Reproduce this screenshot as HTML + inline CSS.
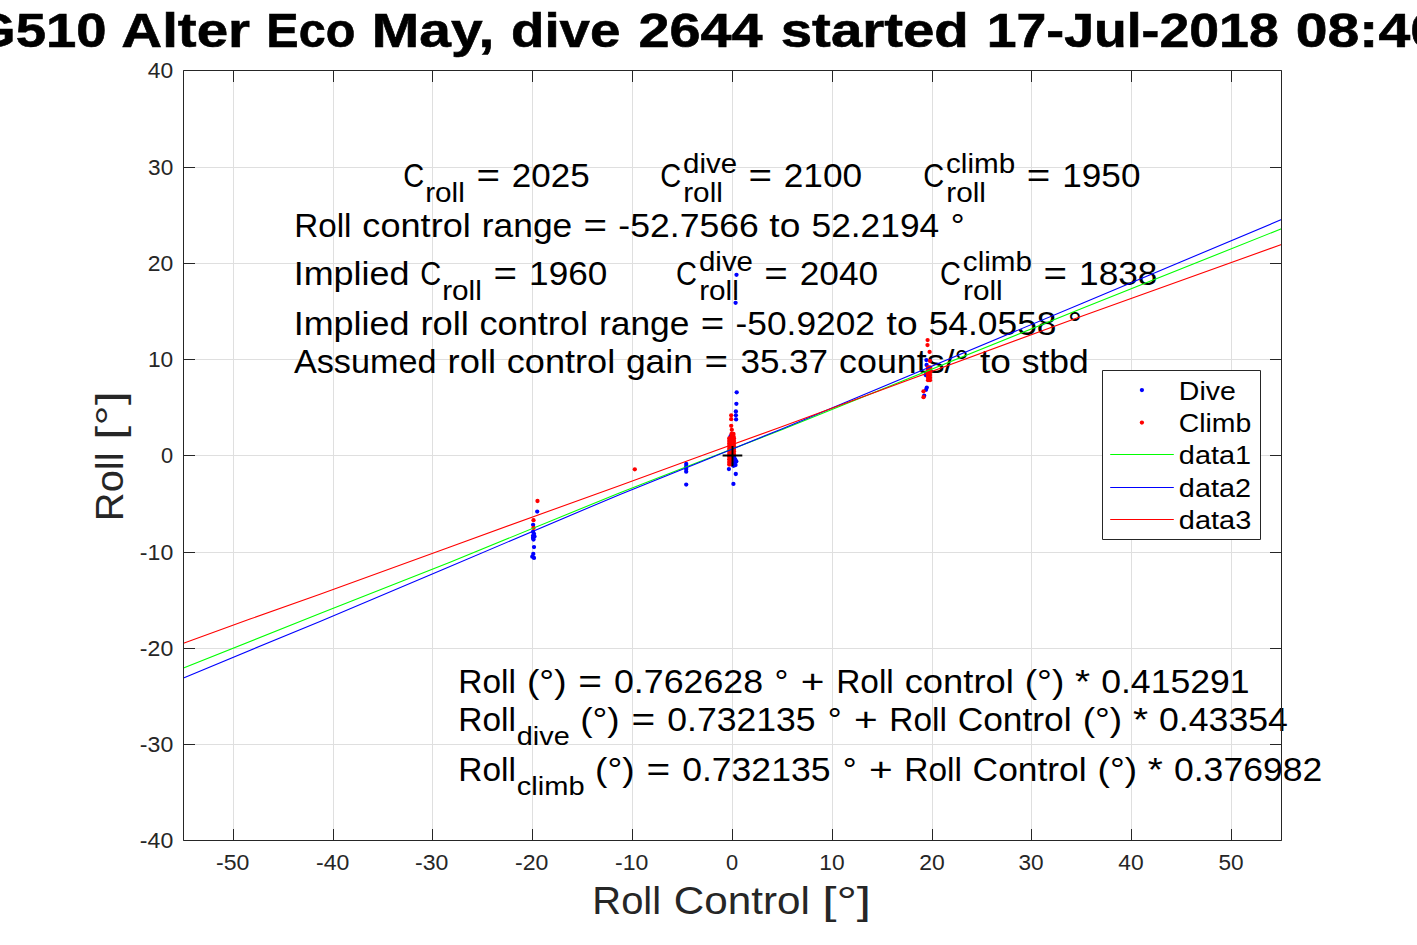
<!DOCTYPE html><html><head><meta charset="utf-8"><style>html,body{margin:0;padding:0;background:#fff;overflow:hidden}svg{display:block}text{font-family:"Liberation Sans",sans-serif;white-space:pre}</style></head><body>
<svg width="1417" height="945" viewBox="0 0 1417 945">
<rect width="1417" height="945" fill="#fff"/>
<path d="M233.5 70.5V840.5M333.5 70.5V840.5M432.5 70.5V840.5M532.5 70.5V840.5M632.5 70.5V840.5M732.5 70.5V840.5M832.5 70.5V840.5M932.5 70.5V840.5M1031.5 70.5V840.5M1131.5 70.5V840.5M1231.5 70.5V840.5M183.5 167.5H1281.5M183.5 263.5H1281.5M183.5 359.5H1281.5M183.5 455.5H1281.5M183.5 552.5H1281.5M183.5 648.5H1281.5M183.5 744.5H1281.5" stroke="#dfdfdf" stroke-width="1" fill="none"/>
<text x="403.22" y="187.00" font-size="32.87" fill="#000" textLength="20.98" lengthAdjust="spacingAndGlyphs">C</text>
<text x="425.15" y="202.00" font-size="26.88" fill="#000" textLength="39.65" lengthAdjust="spacingAndGlyphs">roll</text>
<text x="476.51" y="187.00" font-size="32.87" fill="#000" textLength="23.55" lengthAdjust="spacingAndGlyphs">=</text>
<text x="511.87" y="187.00" font-size="32.87" fill="#000" textLength="77.86" lengthAdjust="spacingAndGlyphs">2025</text>
<text x="660.19" y="187.00" font-size="32.87" fill="#000" textLength="20.98" lengthAdjust="spacingAndGlyphs">C</text>
<text x="683.04" y="172.50" font-size="26.88" fill="#000" textLength="54.03" lengthAdjust="spacingAndGlyphs">dive</text>
<text x="683.22" y="201.80" font-size="26.88" fill="#000" textLength="39.65" lengthAdjust="spacingAndGlyphs">roll</text>
<text x="748.43" y="187.00" font-size="32.87" fill="#000" textLength="23.55" lengthAdjust="spacingAndGlyphs">=</text>
<text x="783.77" y="187.00" font-size="32.87" fill="#000" textLength="78.44" lengthAdjust="spacingAndGlyphs">2100</text>
<text x="923.22" y="187.00" font-size="32.87" fill="#000" textLength="20.98" lengthAdjust="spacingAndGlyphs">C</text>
<text x="946.05" y="172.50" font-size="26.88" fill="#000" textLength="69.18" lengthAdjust="spacingAndGlyphs">climb</text>
<text x="946.25" y="201.80" font-size="26.88" fill="#000" textLength="39.65" lengthAdjust="spacingAndGlyphs">roll</text>
<text x="1026.68" y="187.00" font-size="32.87" fill="#000" textLength="23.55" lengthAdjust="spacingAndGlyphs">=</text>
<text x="1062.27" y="187.00" font-size="32.87" fill="#000" textLength="78.19" lengthAdjust="spacingAndGlyphs">1950</text>
<text x="294.27" y="237.00" font-size="32.87" fill="#000" textLength="57.23" lengthAdjust="spacingAndGlyphs">Roll</text>
<text x="362.36" y="237.00" font-size="32.87" fill="#000" textLength="108.47" lengthAdjust="spacingAndGlyphs">control</text>
<text x="481.80" y="237.00" font-size="32.87" fill="#000" textLength="90.42" lengthAdjust="spacingAndGlyphs">range</text>
<text x="583.61" y="237.00" font-size="32.87" fill="#000" textLength="23.55" lengthAdjust="spacingAndGlyphs">=</text>
<text x="618.38" y="237.00" font-size="32.87" fill="#000" textLength="140.37" lengthAdjust="spacingAndGlyphs">-52.7566</text>
<text x="769.39" y="237.00" font-size="32.87" fill="#000" textLength="30.99" lengthAdjust="spacingAndGlyphs">to</text>
<text x="811.49" y="237.00" font-size="32.87" fill="#000" textLength="127.71" lengthAdjust="spacingAndGlyphs">52.2194</text>
<text x="950.79" y="237.00" font-size="32.87" fill="#000" textLength="13.83" lengthAdjust="spacingAndGlyphs">°</text>
<text x="293.68" y="285.00" font-size="32.87" fill="#000" textLength="115.82" lengthAdjust="spacingAndGlyphs">Implied</text>
<text x="420.27" y="285.00" font-size="32.87" fill="#000" textLength="20.98" lengthAdjust="spacingAndGlyphs">C</text>
<text x="442.19" y="300.00" font-size="26.88" fill="#000" textLength="39.65" lengthAdjust="spacingAndGlyphs">roll</text>
<text x="493.55" y="285.00" font-size="32.87" fill="#000" textLength="23.55" lengthAdjust="spacingAndGlyphs">=</text>
<text x="529.14" y="285.00" font-size="32.87" fill="#000" textLength="78.19" lengthAdjust="spacingAndGlyphs">1960</text>
<text x="676.12" y="285.00" font-size="32.87" fill="#000" textLength="20.98" lengthAdjust="spacingAndGlyphs">C</text>
<text x="698.97" y="270.50" font-size="26.88" fill="#000" textLength="54.03" lengthAdjust="spacingAndGlyphs">dive</text>
<text x="699.15" y="299.80" font-size="26.88" fill="#000" textLength="39.65" lengthAdjust="spacingAndGlyphs">roll</text>
<text x="764.36" y="285.00" font-size="32.87" fill="#000" textLength="23.55" lengthAdjust="spacingAndGlyphs">=</text>
<text x="799.70" y="285.00" font-size="32.87" fill="#000" textLength="78.44" lengthAdjust="spacingAndGlyphs">2040</text>
<text x="940.02" y="285.00" font-size="32.87" fill="#000" textLength="20.98" lengthAdjust="spacingAndGlyphs">C</text>
<text x="962.85" y="270.50" font-size="26.88" fill="#000" textLength="69.18" lengthAdjust="spacingAndGlyphs">climb</text>
<text x="963.05" y="299.80" font-size="26.88" fill="#000" textLength="39.65" lengthAdjust="spacingAndGlyphs">roll</text>
<text x="1043.48" y="285.00" font-size="32.87" fill="#000" textLength="23.55" lengthAdjust="spacingAndGlyphs">=</text>
<text x="1079.07" y="285.00" font-size="32.87" fill="#000" textLength="78.29" lengthAdjust="spacingAndGlyphs">1838</text>
<text x="293.68" y="335.00" font-size="32.87" fill="#000" textLength="115.82" lengthAdjust="spacingAndGlyphs">Implied</text>
<text x="420.41" y="335.00" font-size="32.87" fill="#000" textLength="48.48" lengthAdjust="spacingAndGlyphs">roll</text>
<text x="479.54" y="335.00" font-size="32.87" fill="#000" textLength="108.47" lengthAdjust="spacingAndGlyphs">control</text>
<text x="598.97" y="335.00" font-size="32.87" fill="#000" textLength="90.42" lengthAdjust="spacingAndGlyphs">range</text>
<text x="700.78" y="335.00" font-size="32.87" fill="#000" textLength="23.55" lengthAdjust="spacingAndGlyphs">=</text>
<text x="735.57" y="335.00" font-size="32.87" fill="#000" textLength="139.41" lengthAdjust="spacingAndGlyphs">-50.9202</text>
<text x="886.57" y="335.00" font-size="32.87" fill="#000" textLength="30.99" lengthAdjust="spacingAndGlyphs">to</text>
<text x="928.66" y="335.00" font-size="32.87" fill="#000" textLength="127.83" lengthAdjust="spacingAndGlyphs">54.0558</text>
<text x="1067.96" y="335.00" font-size="32.87" fill="#000" textLength="13.83" lengthAdjust="spacingAndGlyphs">°</text>
<text x="293.93" y="373.00" font-size="32.87" fill="#000" textLength="142.66" lengthAdjust="spacingAndGlyphs">Assumed</text>
<text x="447.61" y="373.00" font-size="32.87" fill="#000" textLength="48.48" lengthAdjust="spacingAndGlyphs">roll</text>
<text x="506.74" y="373.00" font-size="32.87" fill="#000" textLength="108.47" lengthAdjust="spacingAndGlyphs">control</text>
<text x="625.92" y="373.00" font-size="32.87" fill="#000" textLength="66.98" lengthAdjust="spacingAndGlyphs">gain</text>
<text x="704.56" y="373.00" font-size="32.87" fill="#000" textLength="23.55" lengthAdjust="spacingAndGlyphs">=</text>
<text x="740.43" y="373.00" font-size="32.87" fill="#000" textLength="87.64" lengthAdjust="spacingAndGlyphs">35.37</text>
<text x="839.14" y="373.00" font-size="32.87" fill="#000" textLength="129.77" lengthAdjust="spacingAndGlyphs">counts/°</text>
<text x="979.97" y="373.00" font-size="32.87" fill="#000" textLength="30.99" lengthAdjust="spacingAndGlyphs">to</text>
<text x="1021.78" y="373.00" font-size="32.87" fill="#000" textLength="67.05" lengthAdjust="spacingAndGlyphs">stbd</text>
<text x="458.26" y="693.00" font-size="33.08" fill="#000" textLength="57.60" lengthAdjust="spacingAndGlyphs">Roll</text>
<text x="526.99" y="693.00" font-size="33.08" fill="#000" textLength="39.51" lengthAdjust="spacingAndGlyphs">(°)</text>
<text x="578.28" y="693.00" font-size="33.08" fill="#000" textLength="23.70" lengthAdjust="spacingAndGlyphs">=</text>
<text x="614.01" y="693.00" font-size="33.08" fill="#000" textLength="149.02" lengthAdjust="spacingAndGlyphs">0.762628</text>
<text x="774.57" y="693.00" font-size="33.08" fill="#000" textLength="13.91" lengthAdjust="spacingAndGlyphs">°</text>
<text x="800.77" y="693.00" font-size="33.08" fill="#000" textLength="23.70" lengthAdjust="spacingAndGlyphs">+</text>
<text x="836.16" y="693.00" font-size="33.08" fill="#000" textLength="57.60" lengthAdjust="spacingAndGlyphs">Roll</text>
<text x="904.68" y="693.00" font-size="33.08" fill="#000" textLength="109.17" lengthAdjust="spacingAndGlyphs">control</text>
<text x="1024.79" y="693.00" font-size="33.08" fill="#000" textLength="39.51" lengthAdjust="spacingAndGlyphs">(°)</text>
<text x="1075.04" y="693.00" font-size="33.08" fill="#000" textLength="15.11" lengthAdjust="spacingAndGlyphs">*</text>
<text x="1101.18" y="693.00" font-size="33.08" fill="#000" textLength="148.45" lengthAdjust="spacingAndGlyphs">0.415291</text>
<text x="458.26" y="731.00" font-size="33.08" fill="#000" textLength="57.60" lengthAdjust="spacingAndGlyphs">Roll</text>
<text x="516.74" y="744.70" font-size="26.36" fill="#000" textLength="52.98" lengthAdjust="spacingAndGlyphs">dive</text>
<text x="580.20" y="731.00" font-size="33.08" fill="#000" textLength="39.51" lengthAdjust="spacingAndGlyphs">(°)</text>
<text x="631.48" y="731.00" font-size="33.08" fill="#000" textLength="23.70" lengthAdjust="spacingAndGlyphs">=</text>
<text x="667.22" y="731.00" font-size="33.08" fill="#000" textLength="148.36" lengthAdjust="spacingAndGlyphs">0.732135</text>
<text x="827.78" y="731.00" font-size="33.08" fill="#000" textLength="13.91" lengthAdjust="spacingAndGlyphs">°</text>
<text x="853.97" y="731.00" font-size="33.08" fill="#000" textLength="23.70" lengthAdjust="spacingAndGlyphs">+</text>
<text x="889.37" y="731.00" font-size="33.08" fill="#000" textLength="57.60" lengthAdjust="spacingAndGlyphs">Roll</text>
<text x="957.67" y="731.00" font-size="33.08" fill="#000" textLength="114.00" lengthAdjust="spacingAndGlyphs">Control</text>
<text x="1082.67" y="731.00" font-size="33.08" fill="#000" textLength="39.51" lengthAdjust="spacingAndGlyphs">(°)</text>
<text x="1132.92" y="731.00" font-size="33.08" fill="#000" textLength="15.11" lengthAdjust="spacingAndGlyphs">*</text>
<text x="1159.05" y="731.00" font-size="33.08" fill="#000" textLength="128.85" lengthAdjust="spacingAndGlyphs">0.43354</text>
<text x="458.26" y="781.00" font-size="33.08" fill="#000" textLength="57.60" lengthAdjust="spacingAndGlyphs">Roll</text>
<text x="516.72" y="794.70" font-size="26.36" fill="#000" textLength="67.83" lengthAdjust="spacingAndGlyphs">climb</text>
<text x="595.12" y="781.00" font-size="33.08" fill="#000" textLength="39.51" lengthAdjust="spacingAndGlyphs">(°)</text>
<text x="646.41" y="781.00" font-size="33.08" fill="#000" textLength="23.70" lengthAdjust="spacingAndGlyphs">=</text>
<text x="682.15" y="781.00" font-size="33.08" fill="#000" textLength="148.36" lengthAdjust="spacingAndGlyphs">0.732135</text>
<text x="842.70" y="781.00" font-size="33.08" fill="#000" textLength="13.91" lengthAdjust="spacingAndGlyphs">°</text>
<text x="868.90" y="781.00" font-size="33.08" fill="#000" textLength="23.70" lengthAdjust="spacingAndGlyphs">+</text>
<text x="904.30" y="781.00" font-size="33.08" fill="#000" textLength="57.60" lengthAdjust="spacingAndGlyphs">Roll</text>
<text x="972.60" y="781.00" font-size="33.08" fill="#000" textLength="114.00" lengthAdjust="spacingAndGlyphs">Control</text>
<text x="1097.60" y="781.00" font-size="33.08" fill="#000" textLength="39.51" lengthAdjust="spacingAndGlyphs">(°)</text>
<text x="1147.85" y="781.00" font-size="33.08" fill="#000" textLength="15.11" lengthAdjust="spacingAndGlyphs">*</text>
<text x="1173.98" y="781.00" font-size="33.08" fill="#000" textLength="148.25" lengthAdjust="spacingAndGlyphs">0.376982</text>
<g fill="#0000ff"><circle cx="537.2" cy="511.6" r="2.15"/><circle cx="533.1" cy="524.8" r="2.15"/><circle cx="533.0" cy="531.8" r="2.15"/><circle cx="534.0" cy="533.8" r="2.15"/><circle cx="533.0" cy="535.8" r="2.15"/><circle cx="534.5" cy="536.5" r="2.15"/><circle cx="533.0" cy="538.0" r="2.15"/><circle cx="533.5" cy="539.5" r="2.15"/><circle cx="534.0" cy="547.1" r="2.15"/><circle cx="533.3" cy="553.9" r="2.15"/><circle cx="532.3" cy="556.7" r="2.15"/><circle cx="534.0" cy="557.9" r="2.15"/><circle cx="686.2" cy="464.0" r="2.15"/><circle cx="686.2" cy="466.5" r="2.15"/><circle cx="686.2" cy="469.0" r="2.15"/><circle cx="686.2" cy="471.7" r="2.15"/><circle cx="686.2" cy="484.6" r="2.15"/><circle cx="736.5" cy="274.8" r="2.15"/><circle cx="735.6" cy="302.8" r="2.15"/><circle cx="736.7" cy="392.3" r="2.15"/><circle cx="736.4" cy="403.8" r="2.15"/><circle cx="735.9" cy="411.5" r="2.15"/><circle cx="735.9" cy="415.3" r="2.15"/><circle cx="736.1" cy="419.4" r="2.15"/><circle cx="730.6" cy="436.2" r="2.15"/><circle cx="926.4" cy="360.1" r="2.15"/><circle cx="926.6" cy="365.0" r="2.15"/><circle cx="925.7" cy="375.0" r="2.15"/><circle cx="926.8" cy="387.6" r="2.15"/><circle cx="926.0" cy="389.8" r="2.15"/><circle cx="924.2" cy="395.7" r="2.15"/></g>
<g fill="#ff0000"><circle cx="537.5" cy="501.0" r="2.15"/><circle cx="533.5" cy="520.2" r="2.15"/><circle cx="533.5" cy="527.9" r="2.15"/><circle cx="634.8" cy="469.3" r="2.15"/><circle cx="731.2" cy="415.3" r="2.15"/><circle cx="731.2" cy="419.2" r="2.15"/><circle cx="731.2" cy="425.8" r="2.15"/><circle cx="731.8" cy="429.8" r="2.15"/><circle cx="927.6" cy="340.1" r="2.15"/><circle cx="927.5" cy="345.1" r="2.15"/><circle cx="929.6" cy="351.9" r="2.15"/><circle cx="930.0" cy="360.9" r="2.15"/><circle cx="923.5" cy="391.3" r="2.15"/><circle cx="923.5" cy="397.2" r="2.15"/><circle cx="731.5" cy="434.0" r="2.15"/><circle cx="733.5" cy="434.0" r="2.15"/><circle cx="731.5" cy="436.5" r="2.15"/><circle cx="733.5" cy="436.5" r="2.15"/><circle cx="729.2" cy="438.5" r="2.15"/><circle cx="731.6" cy="438.5" r="2.15"/><circle cx="734.0" cy="438.5" r="2.15"/><circle cx="729.2" cy="441.1" r="2.15"/><circle cx="731.6" cy="441.1" r="2.15"/><circle cx="734.0" cy="441.1" r="2.15"/><circle cx="729.2" cy="443.7" r="2.15"/><circle cx="731.6" cy="443.7" r="2.15"/><circle cx="734.0" cy="443.7" r="2.15"/><circle cx="729.2" cy="446.3" r="2.15"/><circle cx="731.6" cy="446.3" r="2.15"/><circle cx="734.0" cy="446.3" r="2.15"/><circle cx="729.2" cy="448.9" r="2.15"/><circle cx="731.6" cy="448.9" r="2.15"/><circle cx="734.0" cy="448.9" r="2.15"/><circle cx="729.2" cy="451.5" r="2.15"/><circle cx="731.6" cy="451.5" r="2.15"/><circle cx="734.0" cy="451.5" r="2.15"/><circle cx="729.2" cy="454.1" r="2.15"/><circle cx="731.6" cy="454.1" r="2.15"/><circle cx="734.0" cy="454.1" r="2.15"/><circle cx="729.2" cy="456.7" r="2.15"/><circle cx="731.6" cy="456.7" r="2.15"/><circle cx="734.0" cy="456.7" r="2.15"/><circle cx="729.2" cy="459.3" r="2.15"/><circle cx="731.6" cy="459.3" r="2.15"/><circle cx="734.0" cy="459.3" r="2.15"/><circle cx="729.2" cy="461.9" r="2.15"/><circle cx="731.6" cy="461.9" r="2.15"/><circle cx="734.0" cy="461.9" r="2.15"/><circle cx="729.2" cy="464.5" r="2.15"/><circle cx="731.6" cy="464.5" r="2.15"/><circle cx="734.0" cy="464.5" r="2.15"/><circle cx="928.0" cy="367.5" r="2.15"/><circle cx="930.0" cy="367.5" r="2.15"/><circle cx="928.0" cy="370.1" r="2.15"/><circle cx="930.0" cy="370.1" r="2.15"/><circle cx="928.0" cy="372.6" r="2.15"/><circle cx="930.0" cy="372.6" r="2.15"/><circle cx="928.0" cy="375.1" r="2.15"/><circle cx="930.0" cy="375.1" r="2.15"/><circle cx="928.0" cy="377.7" r="2.15"/><circle cx="930.0" cy="377.7" r="2.15"/><circle cx="928.0" cy="380.2" r="2.15"/><circle cx="930.0" cy="380.2" r="2.15"/></g>
<g fill="#0000ff"><circle cx="734.0" cy="457.5" r="2.15"/><circle cx="735.2" cy="459.5" r="2.15"/><circle cx="736.3" cy="461.4" r="2.15"/><circle cx="733.8" cy="463.2" r="2.15"/><circle cx="735.5" cy="465.0" r="2.15"/><circle cx="733.5" cy="465.8" r="2.15"/><circle cx="728.9" cy="469.1" r="2.15"/><circle cx="735.8" cy="474.0" r="2.15"/><circle cx="733.4" cy="483.9" r="2.15"/></g>
<polyline points="183.5,668 320,613.6 450,562.2 620,492.7 700,461.4 783,429.2 1083,308.1 1281.5,228.7" fill="none" stroke="#00ff00" stroke-width="1.1" stroke-linejoin="round"/>
<polyline points="183.5,677.9 320,621.4 450,566.4 620,494.4 700,462.2 783,428.4 1083,303.0 1281.5,219.6" fill="none" stroke="#0000ff" stroke-width="1.1" stroke-linejoin="round"/>
<polyline points="183.5,643.2 250,619.1 320,594.3 450,546.9 620,485.4 700,456.3 783,426.3 1083,315.7 1281.5,244.5" fill="none" stroke="#ff0000" stroke-width="1.1" stroke-linejoin="round"/>
<path d="M722.6 455.5H742.3M732.5 445.9V466.2" stroke="#000" stroke-width="1.9" fill="none"/>
<path d="M233.5 840.5V829.0M233.5 70.5V82.0M333.5 840.5V829.0M333.5 70.5V82.0M432.5 840.5V829.0M432.5 70.5V82.0M532.5 840.5V829.0M532.5 70.5V82.0M632.5 840.5V829.0M632.5 70.5V82.0M732.5 840.5V829.0M732.5 70.5V82.0M832.5 840.5V829.0M832.5 70.5V82.0M932.5 840.5V829.0M932.5 70.5V82.0M1031.5 840.5V829.0M1031.5 70.5V82.0M1131.5 840.5V829.0M1131.5 70.5V82.0M1231.5 840.5V829.0M1231.5 70.5V82.0M183.5 70.5H195.0M1281.5 70.5H1270.0M183.5 167.5H195.0M1281.5 167.5H1270.0M183.5 263.5H195.0M1281.5 263.5H1270.0M183.5 359.5H195.0M1281.5 359.5H1270.0M183.5 455.5H195.0M1281.5 455.5H1270.0M183.5 552.5H195.0M1281.5 552.5H1270.0M183.5 648.5H195.0M1281.5 648.5H1270.0M183.5 744.5H195.0M1281.5 744.5H1270.0M183.5 840.5H195.0M1281.5 840.5H1270.0M183.5 70.5H1281.5V840.5H183.5Z" stroke="#262626" stroke-width="1" fill="none"/>
<text x="216.08" y="869.80" font-size="21.73" fill="#262626" textLength="33.35" lengthAdjust="spacingAndGlyphs">-50</text>
<text x="316.08" y="869.80" font-size="21.73" fill="#262626" textLength="33.35" lengthAdjust="spacingAndGlyphs">-40</text>
<text x="415.08" y="869.80" font-size="21.73" fill="#262626" textLength="33.35" lengthAdjust="spacingAndGlyphs">-30</text>
<text x="515.08" y="869.80" font-size="21.73" fill="#262626" textLength="33.35" lengthAdjust="spacingAndGlyphs">-20</text>
<text x="615.08" y="869.80" font-size="21.73" fill="#262626" textLength="33.35" lengthAdjust="spacingAndGlyphs">-10</text>
<text x="725.93" y="869.80" font-size="21.73" fill="#262626" textLength="12.14" lengthAdjust="spacingAndGlyphs">0</text>
<text x="819.37" y="869.80" font-size="21.73" fill="#262626" textLength="25.31" lengthAdjust="spacingAndGlyphs">10</text>
<text x="919.19" y="869.80" font-size="21.73" fill="#262626" textLength="25.50" lengthAdjust="spacingAndGlyphs">20</text>
<text x="1018.55" y="869.80" font-size="21.73" fill="#262626" textLength="25.13" lengthAdjust="spacingAndGlyphs">30</text>
<text x="1118.32" y="869.80" font-size="21.73" fill="#262626" textLength="25.37" lengthAdjust="spacingAndGlyphs">40</text>
<text x="1218.52" y="869.80" font-size="21.73" fill="#262626" textLength="25.16" lengthAdjust="spacingAndGlyphs">50</text>
<text x="147.85" y="77.90" font-size="21.73" fill="#262626" textLength="25.37" lengthAdjust="spacingAndGlyphs">40</text>
<text x="148.08" y="174.90" font-size="21.73" fill="#262626" textLength="25.13" lengthAdjust="spacingAndGlyphs">30</text>
<text x="147.72" y="270.90" font-size="21.73" fill="#262626" textLength="25.50" lengthAdjust="spacingAndGlyphs">20</text>
<text x="147.90" y="366.90" font-size="21.73" fill="#262626" textLength="25.31" lengthAdjust="spacingAndGlyphs">10</text>
<text x="161.04" y="462.90" font-size="21.73" fill="#262626" textLength="12.14" lengthAdjust="spacingAndGlyphs">0</text>
<text x="139.88" y="559.90" font-size="21.73" fill="#262626" textLength="33.35" lengthAdjust="spacingAndGlyphs">-10</text>
<text x="139.88" y="655.90" font-size="21.73" fill="#262626" textLength="33.35" lengthAdjust="spacingAndGlyphs">-20</text>
<text x="139.88" y="751.90" font-size="21.73" fill="#262626" textLength="33.35" lengthAdjust="spacingAndGlyphs">-30</text>
<text x="139.88" y="847.90" font-size="21.73" fill="#262626" textLength="33.35" lengthAdjust="spacingAndGlyphs">-40</text>
<g stroke="#000" stroke-width="0.6">
<text x="-26.73" y="46.70" font-size="48.15" font-weight="bold" fill="#000" textLength="133.36" lengthAdjust="spacingAndGlyphs">G510</text>
<text x="121.37" y="46.70" font-size="48.15" font-weight="bold" fill="#000" textLength="128.76" lengthAdjust="spacingAndGlyphs">Alter</text>
<text x="266.34" y="46.70" font-size="48.15" font-weight="bold" fill="#000" textLength="88.98" lengthAdjust="spacingAndGlyphs">Eco</text>
<text x="371.89" y="46.70" font-size="48.15" font-weight="bold" fill="#000" textLength="122.37" lengthAdjust="spacingAndGlyphs">May,</text>
<text x="511.04" y="46.70" font-size="48.15" font-weight="bold" fill="#000" textLength="109.38" lengthAdjust="spacingAndGlyphs">dive</text>
<text x="638.43" y="46.70" font-size="48.15" font-weight="bold" fill="#000" textLength="124.14" lengthAdjust="spacingAndGlyphs">2644</text>
<text x="780.73" y="46.70" font-size="48.15" font-weight="bold" fill="#000" textLength="188.11" lengthAdjust="spacingAndGlyphs">started</text>
<text x="986.74" y="46.70" font-size="48.15" font-weight="bold" fill="#000" textLength="291.96" lengthAdjust="spacingAndGlyphs">17-Jul-2018</text>
<text x="1295.79" y="46.70" font-size="48.15" font-weight="bold" fill="#000" textLength="146.19" lengthAdjust="spacingAndGlyphs">08:40</text>
</g>
<text x="592.33" y="914.00" font-size="39.48" fill="#262626" textLength="68.75" lengthAdjust="spacingAndGlyphs">Roll</text>
<text x="673.85" y="914.00" font-size="39.48" fill="#262626" textLength="136.07" lengthAdjust="spacingAndGlyphs">Control</text>
<text x="822.15" y="914.00" font-size="39.48" fill="#262626" textLength="48.98" lengthAdjust="spacingAndGlyphs">[°]</text>
<g transform="translate(123.0 517.9) rotate(-90)">
<text x="-3.27" y="0.00" font-size="39.48" fill="#262626" textLength="68.75" lengthAdjust="spacingAndGlyphs">Roll</text>
<text x="77.86" y="0.00" font-size="39.48" fill="#262626" textLength="48.98" lengthAdjust="spacingAndGlyphs">[°]</text>
</g>
<path d="M1102.5 370.5H1260.5V539.5H1102.5Z" fill="#fff" stroke="#262626" stroke-width="1"/>
<g fill="#0000ff"><circle cx="1141.9" cy="390.1" r="2.15"/></g><g fill="#ff0000"><circle cx="1141.9" cy="422.6" r="2.15"/></g>
<path d="M1110.2 454.5H1173.8" stroke="#00ff00" stroke-width="1.1"/>
<path d="M1110.2 487.5H1173.8" stroke="#0000ff" stroke-width="1.1"/>
<path d="M1110.2 519.5H1173.8" stroke="#ff0000" stroke-width="1.1"/>
<text x="1178.85" y="399.60" font-size="26.67" fill="#000" textLength="57.03" lengthAdjust="spacingAndGlyphs">Dive</text>
<text x="1178.69" y="431.95" font-size="26.67" fill="#000" textLength="72.53" lengthAdjust="spacingAndGlyphs">Climb</text>
<text x="1178.89" y="464.30" font-size="26.67" fill="#000" textLength="72.25" lengthAdjust="spacingAndGlyphs">data1</text>
<text x="1178.89" y="496.65" font-size="26.67" fill="#000" textLength="72.09" lengthAdjust="spacingAndGlyphs">data2</text>
<text x="1178.89" y="529.00" font-size="26.67" fill="#000" textLength="72.42" lengthAdjust="spacingAndGlyphs">data3</text>
</svg></body></html>
